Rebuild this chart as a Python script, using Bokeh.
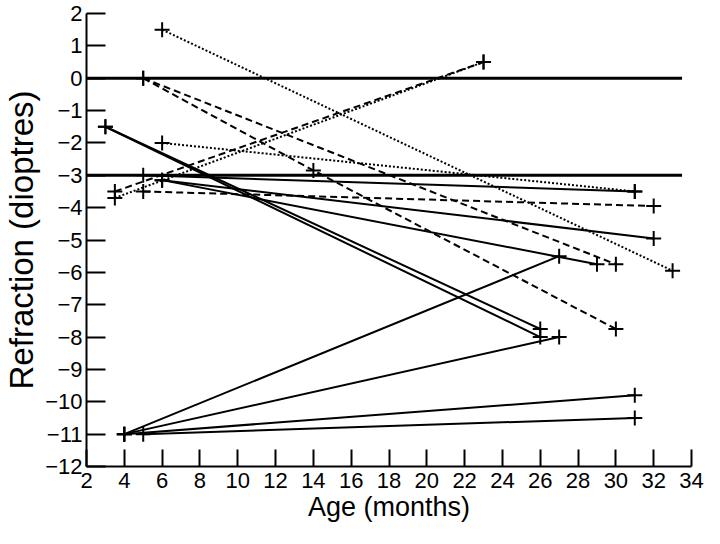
from bokeh.plotting import figure
from bokeh.models import FixedTicker
from bokeh.embed import file_html
from bokeh.resources import INLINE

# ---- data ----
x_ticks = [2, 4, 6, 8, 10, 12, 14, 16, 18, 20, 22, 24, 26, 28, 30, 32, 34]
y_ticks = [2, 1, 0, -1, -2, -3, -4, -5, -6, -7, -8, -9, -10, -11, -12]
y_tick_labels = ["2", "1", "0", "\u22121", "\u22122", "\u22123", "\u22124", "\u22125",
                 "\u22126", "\u22127", "\u22128", "\u22129", "\u221210", "\u221211", "\u221212"]

ref_levels = [0, -3]
ref_x = [2, 33.5]

solid_x = [[3, 26], [3, 26], [5, 31], [6, 32], [6, 29], [4, 27], [4, 27], [4, 31], [5, 31]]
solid_y = [[-1.5, -7.75], [-1.5, -8.0], [-3.0, -3.5], [-3.15, -4.95], [-3.15, -5.75],
           [-11, -5.5], [-11, -8.0], [-11, -9.8], [-11, -10.5]]

dashed_x = [[5, 30], [5, 14, 30], [5, 32], [3.5, 23]]
dashed_y = [[0, -5.75], [0, -2.85, -7.75], [-3.5, -3.95], [-3.5, 0.5]]

dotted_x = [[6, 33], [6, 31], [3.5, 23]]
dotted_y = [[1.5, -5.95], [-2.0, -3.5], [-3.7, 0.5]]

FONT = "'Liberation Sans', Arial, Helvetica, sans-serif"

p = figure(width=704, height=528, x_range=(2, 34), y_range=(-12, 2),
           output_backend="svg", toolbar_location=None,
           min_border_left=74, min_border_right=13, min_border_top=13, min_border_bottom=62)
p.outline_line_color = None
p.xgrid.visible = False
p.ygrid.visible = False
p.background_fill_color = "white"

# reference horizontal lines
for lev in ref_levels:
    p.line(ref_x, [lev, lev], line_color="black", line_width=3)

for xs, ys in zip(solid_x, solid_y):
    p.line(xs, ys, line_color="black", line_width=2)
for xs, ys in zip(dashed_x, dashed_y):
    p.line(xs, ys, line_color="black", line_width=2, line_dash="7 4")
for xs, ys in zip(dotted_x, dotted_y):
    p.line(xs, ys, line_color="black", line_width=2, line_dash="2 2")

all_x = [v for grp in (solid_x, dashed_x, dotted_x) for xs in grp for v in xs]
all_y = [v for grp in (solid_y, dashed_y, dotted_y) for ys in grp for v in ys]
p.scatter(all_x, all_y, marker="cross", size=15, line_color="black", line_width=2)

for ax in (p.xaxis[0], p.yaxis[0]):
    ax.axis_line_width = 2
    ax.axis_line_color = "black"
    ax.major_tick_line_width = 2
    ax.major_tick_line_color = "black"
    ax.major_tick_out = 0
    ax.minor_tick_out = 0
    ax.minor_tick_in = 0
    ax.major_label_text_font = FONT
    ax.major_label_text_font_size = "22px"
    ax.major_label_text_color = "black"
    ax.axis_label_text_font = FONT
    ax.axis_label_text_font_style = "normal"
    ax.axis_label_text_color = "black"

p.xaxis.axis_label_text_font_size = "27px"
p.yaxis.axis_label_text_font_size = "33px"
p.xaxis.ticker = FixedTicker(ticks=x_ticks)
p.yaxis.ticker = FixedTicker(ticks=y_ticks)
p.yaxis.major_label_overrides = {t: lab for t, lab in zip(y_ticks, y_tick_labels)}
p.xaxis.major_tick_in = 17
p.yaxis.major_tick_in = 19
p.xaxis.major_label_standoff = 6
p.yaxis.major_label_standoff = 4
p.xaxis.axis_label = "Age (months)"
p.yaxis.axis_label = "Refraction (dioptres)"
p.xaxis.axis_label_standoff = 1
p.yaxis.axis_label_standoff = 2

open("out.html", "w").write(file_html(p, INLINE))
